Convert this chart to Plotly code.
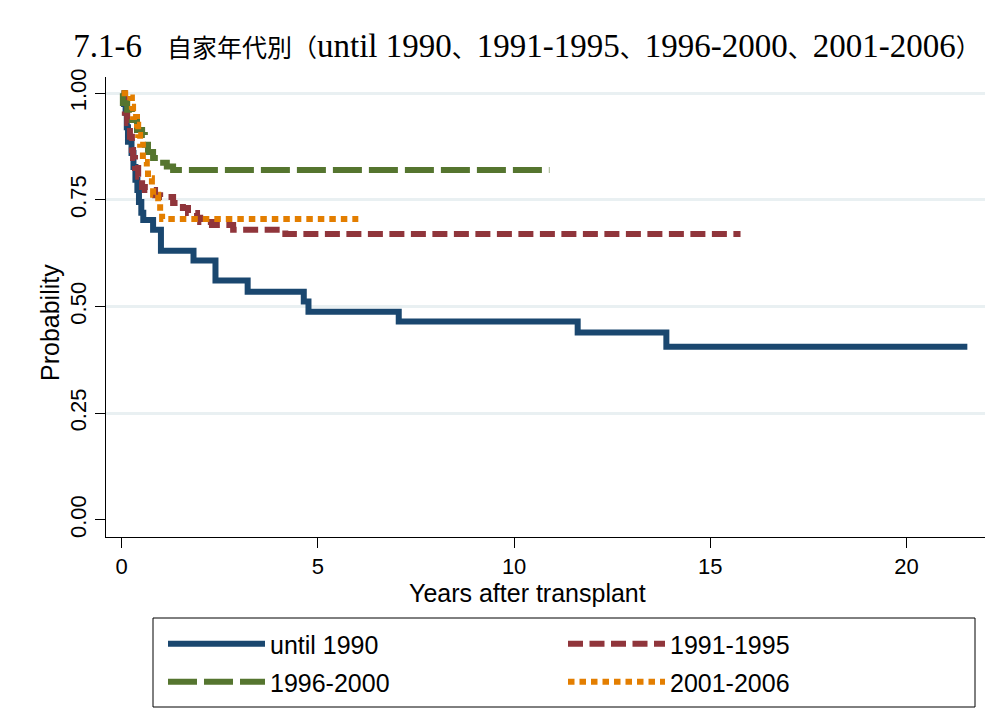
import plotly.graph_objects as go

# ---- data ----
group_names = ["until 1990", "1991-1995", "1996-2000", "2001-2006"]

t_1990 = [0, 0.06, 0.10, 0.13, 0.16, 0.25, 0.30, 0.35, 0.40, 0.44, 0.50, 0.55, 0.80, 1.00,
          1.83, 2.39, 3.21, 4.64, 4.76, 7.06, 11.62, 13.88, 21.55]
s_1990 = [1.0, 0.975, 0.954, 0.92, 0.886, 0.86, 0.827, 0.797, 0.773, 0.745, 0.72, 0.703, 0.680, 0.631,
          0.608, 0.561, 0.535, 0.512, 0.488, 0.465, 0.439, 0.406, 0.406]

t_1995 = [0, 0.08, 0.14, 0.21, 0.26, 0.29, 0.34, 0.42, 0.52, 0.59, 0.85, 0.98, 1.31, 1.56,
          1.69, 1.92, 2.00, 2.30, 2.84, 4.17, 15.77]
s_1995 = [1.0, 0.954, 0.930, 0.898, 0.867, 0.848, 0.825, 0.804, 0.780, 0.773, 0.761, 0.757, 0.743, 0.731,
          0.719, 0.708, 0.698, 0.691, 0.680, 0.670, 0.670]

t_2000 = [0, 0.03, 0.14, 0.26, 0.39, 0.52, 0.59, 0.67, 0.80, 0.98, 1.15, 1.31, 10.90]
s_2000 = [1.0, 0.977, 0.961, 0.937, 0.914, 0.902, 0.879, 0.862, 0.848, 0.837, 0.828, 0.820, 0.820]

t_2006 = [0, 0.22, 0.26, 0.29, 0.39, 0.42, 0.47, 0.54, 0.64, 0.67, 0.77, 0.80, 0.93, 0.98, 1.03, 6.03]
s_2006 = [1.0, 0.99, 0.968, 0.944, 0.926, 0.902, 0.879, 0.839, 0.825, 0.801, 0.780, 0.762, 0.745, 0.722,
          0.705, 0.705]

y_ticks = [0, 0.25, 0.5, 0.75, 1.0]
y_tick_text = ["0.00", "0.25", "0.50", "0.75", "1.00"]
x_ticks = [0, 5, 10, 15, 20]

x_title = "Years after transplant"
y_title = "Probability"
title_prefix = "7.1-6"
title_cjk = "\u3000自家年代別（"
title_periods = ["until 1990", "1991-1995", "1996-2000", "2001-2006"]
title_sep = "、"
title_end = "）"

# ---- styles ----
colors = ["#1a476f", "#90353b", "#55752f", "#e37e00"]
dashes = ["solid", "15px,6.5px", "29px,7px", "6.5px,5px"]
legends = ["legend", "legend", "legend2", "legend2"]
series = [(t_1990, s_1990), (t_1995, s_1995), (t_2000, s_2000), (t_2006, s_2006)]

SANS = "Liberation Sans, Arial, sans-serif"
SERIF = "Liberation Serif, Noto Sans CJK JP, serif"


def cjk(s):
    return "<span style='font-size:25px'>" + s + "</span>"


title_text = (title_prefix + cjk(title_cjk)
              + cjk(title_sep).join(title_periods) + cjk(title_end))

fig = go.Figure()
for name, (t, s), c, d, lg in zip(group_names, series, colors, dashes, legends):
    fig.add_trace(go.Scatter(
        x=t, y=s, mode="lines", name=name, line_shape="hv",
        line=dict(color=c, width=6, dash=d), legend=lg,
    ))

# page body has an 8px margin: work in reference-pixel coordinates and shift
OFF = 8
W, H = 997 - OFF, 726 - OFF
PL, PR, PT, PB = 106, 985, 77, 537          # plot area edges in reference pixels
L, R, T, B = PL - OFF, (997 - OFF) - (PR - OFF), PT - OFF, H - (PB - OFF)
pw, ph = PR - PL, PB - PT


def px_x(p):
    return (p - PL) / pw


def px_y(p):
    return (PB - p) / ph


leg_common = dict(orientation="h", xanchor="left", yanchor="top",
                  entrywidth=288, itemwidth=97, bgcolor="rgba(0,0,0,0)", borderwidth=0,
                  font=dict(family=SANS, size=25, color="black"))

fig.update_layout(
    width=W, height=H,
    margin=dict(l=L, r=R, t=T, b=B, autoexpand=False),
    paper_bgcolor="white", plot_bgcolor="white",
    title=dict(text=title_text, font=dict(family=SERIF, size=33, color="black"),
               x=px_x(527), xref="paper", xanchor="center",
               y=1 - (45 - OFF) / H, yref="container", yanchor="middle"),
    xaxis=dict(range=[-0.40, 22.0], tickvals=x_ticks, showgrid=False, zeroline=False,
               showline=True, linecolor="black", linewidth=1,
               ticks="outside", ticklen=10, tickwidth=1, tickcolor="black",
               tickfont=dict(family=SANS, size=22, color="black")),
    yaxis=dict(range=[-0.040, 1.038], tickvals=y_ticks, ticktext=y_tick_text, tickangle=-90,
               showgrid=True, gridcolor="#e9f0f2", gridwidth=2.5,
               zeroline=True, zerolinecolor="white", zerolinewidth=1,
               showline=True, linecolor="black", linewidth=1,
               ticks="outside", ticklen=10, tickwidth=1, tickcolor="black",
               tickfont=dict(family=SANS, size=22, color="black")),
    legend=dict(x=px_x(163), y=px_y(621), **leg_common),
    legend2=dict(x=px_x(163), y=px_y(659), **leg_common),
    shapes=[dict(type="rect", xref="paper", yref="paper",
                 x0=px_x(153), x1=px_x(975), y0=px_y(707), y1=px_y(618),
                 line=dict(color="black", width=1), fillcolor="rgba(0,0,0,0)")],
    annotations=[
        dict(text=x_title, xref="paper", yref="paper",
             x=px_x(527.5), y=px_y(593), xanchor="center", yanchor="middle", showarrow=False,
             font=dict(family=SANS, size=25, color="black")),
        dict(text=y_title, xref="paper", yref="paper", textangle=-90,
             x=px_x(50), y=px_y(323), xanchor="center", yanchor="middle", showarrow=False,
             font=dict(family=SANS, size=25, color="black")),
    ],
)

fig.write_html("out.html")
